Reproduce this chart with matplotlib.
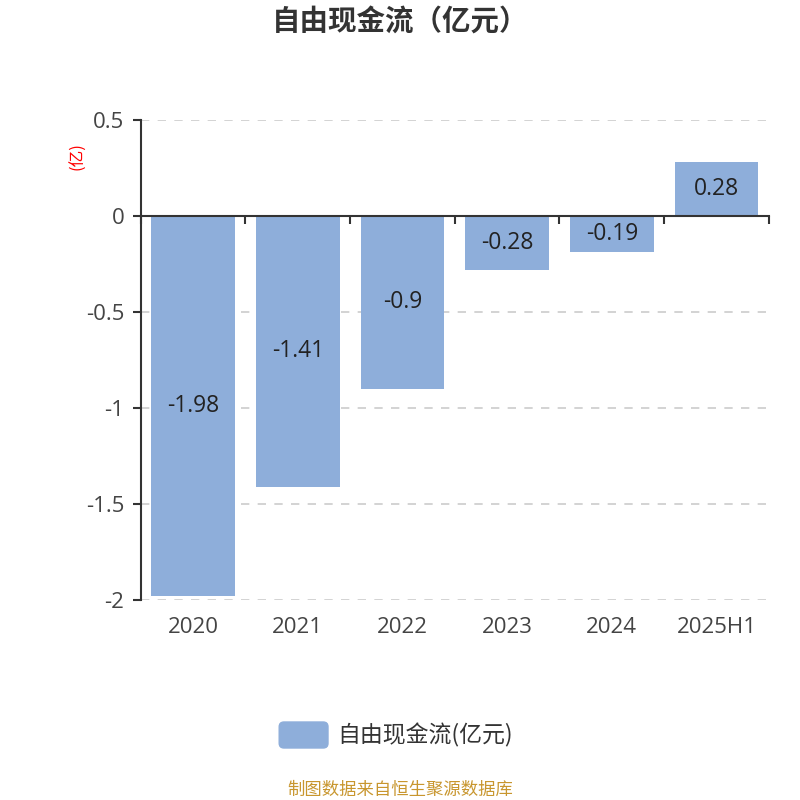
import matplotlib
matplotlib.use("Agg")
from matplotlib import pyplot as plt
from matplotlib.patches import FancyBboxPatch
import matplotlib.transforms as mtransforms
import numpy as np

plt.rcParams['font.family'] = ['Noto Sans CJK SC', 'DejaVu Sans']
num_font = ['Open Sans', 'Noto Sans CJK SC']

years = ['2020', '2021', '2022', '2023', '2024', '2025H1']
values = [-1.98, -1.41, -0.9, -0.28, -0.19, 0.28]
yticks = [0.5, 0, -0.5, -1, -1.5, -2]
ytick_labels = ['0.5', '0', '-0.5', '-1', '-1.5', '-2']

bar_color = '#8EAEDA'
axis_color = '#333333'

fig = plt.figure(figsize=(8, 8), dpi=100)
ax = fig.add_axes([0.176, 0.25, 0.785, 0.60])

x = np.arange(len(years))
ax.bar(x, values, width=0.8, color=bar_color, zorder=3)

for xi, v in zip(x, values):
    ax.text(xi, v / 2, str(v), ha='center', va='center', fontsize=16.5,
            color='#222222', zorder=4, family=num_font)

ax.set_xlim(-0.5, len(years) - 0.5)
ax.set_ylim(-2, 0.5)

ax.set_yticks(yticks)
ax.set_yticklabels(ytick_labels, fontsize=16, color='#444444', family=num_font)
ax.tick_params(axis='y', length=6, width=1.5, color=axis_color, pad=6)

for t in yticks:
    if t != 0:
        ax.axhline(t, color='#cccccc', linestyle=(0, (5, 5)), linewidth=1.2, zorder=1)

for s in ['top', 'right']:
    ax.spines[s].set_visible(False)
ax.spines['left'].set_color(axis_color)
ax.spines['left'].set_linewidth(1.5)
ax.spines['bottom'].set_position(('data', 0))
ax.spines['bottom'].set_color(axis_color)
ax.spines['bottom'].set_linewidth(1.5)
ax.spines['bottom'].set_zorder(5)

ax.set_xticks(np.arange(len(years) + 1) - 0.5)
ax.set_xticklabels([])
ax.tick_params(axis='x', length=6, width=1.5, color=axis_color, direction='out')

trans = mtransforms.blended_transform_factory(ax.transData, ax.transAxes)
for xi, lab in zip(x, years):
    ax.text(xi, -0.036, lab, transform=trans, ha='center', va='top',
            fontsize=16, color='#444444', family=num_font)

fig.text(0.0975, 0.805, '(亿)', rotation=90, color='red', fontsize=12,
         ha='center', va='center')

fig.text(0.5, 0.972, '自由现金流（亿元）', ha='center', va='center',
         fontsize=20.5, fontweight='bold', color='#333333')

# legend
fig.patches.append(FancyBboxPatch((0.349, 0.065), 0.061, 0.0325,
                                  boxstyle='round,pad=0,rounding_size=0.006',
                                  transform=fig.transFigure, color=bar_color))
fig.text(0.422, 0.081, '自由现金流(亿元)', ha='left', va='center',
         fontsize=16.5, color='#333333')

fig.text(0.5, 0.0125, '制图数据来自恒生聚源数据库', ha='center', va='center',
         fontsize=12.5, color='#C8962E')

fig.savefig('out.png', dpi=100)
